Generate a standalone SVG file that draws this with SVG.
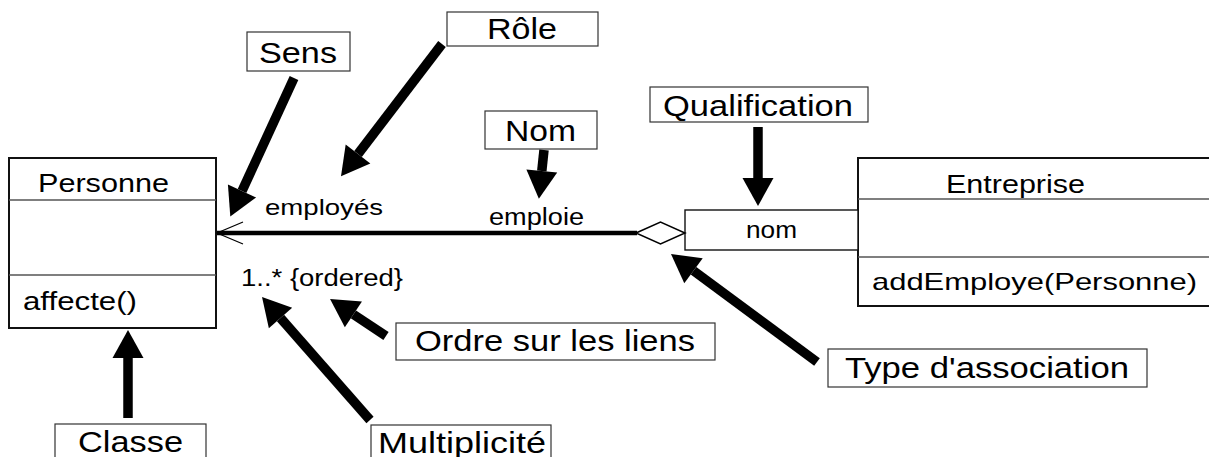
<svg xmlns="http://www.w3.org/2000/svg" width="1209" height="457" viewBox="0 0 1209 457">
<style>
text{font-family:"Liberation Sans",Arial,sans-serif;fill:#000}
.cls{fill:#fff;stroke:#111;stroke-width:2}
.div{stroke:#555;stroke-width:1.4}
.lbl{fill:#fff;stroke:#333;stroke-width:1.2}
.shaft{stroke:#000;stroke-width:9.5;fill:none;marker-end:url(#head)}
</style>
<defs>
<marker id="head" markerUnits="userSpaceOnUse" viewBox="0 -16 29 32" refX="0" refY="0" markerWidth="29" markerHeight="32" orient="auto" overflow="visible">
<path d="M0,-15.5 L28,0 L0,15.5 Z" fill="#000"/>
</marker>
</defs>

<g id="personne">
<rect class="cls" x="9" y="158" width="207" height="170"/>
<line class="div" x1="9" y1="200" x2="216" y2="200"/>
<line class="div" x1="9" y1="275" x2="216" y2="275"/>
<text x="38" y="192" font-size="26" textLength="131" lengthAdjust="spacingAndGlyphs">Personne</text>
<text x="23" y="310" font-size="25" textLength="114" lengthAdjust="spacingAndGlyphs">affecte()</text>
</g>

<g id="entreprise">
<rect class="cls" x="858" y="158" width="360" height="148"/>
<line class="div" x1="858" y1="199" x2="1209" y2="199"/>
<line class="div" x1="858" y1="257" x2="1209" y2="257"/>
<text x="946" y="193" font-size="25" textLength="139" lengthAdjust="spacingAndGlyphs">Entreprise</text>
<text x="872" y="290" font-size="24" textLength="325" lengthAdjust="spacingAndGlyphs">addEmploye(Personne)</text>
</g>

<g id="qualifier">
<rect x="685" y="210" width="173" height="40" fill="#fff" stroke="#111" stroke-width="1.4"/>
<text x="746" y="238" font-size="23" textLength="51" lengthAdjust="spacingAndGlyphs">nom</text>
</g>

<g id="association">
<line x1="217" y1="233" x2="637" y2="233" stroke="#000" stroke-width="4.3"/>
<path d="M243,222 L217,233 L243,244" fill="none" stroke="#000" stroke-width="1.2"/>
<path d="M636,233 L660.5,222 L685,233 L660.5,244 Z" fill="#fff" stroke="#000" stroke-width="1.5"/>
<text x="265" y="215" font-size="22" textLength="118" lengthAdjust="spacingAndGlyphs">employés</text>
<text x="489" y="225" font-size="23" textLength="95" lengthAdjust="spacingAndGlyphs">emploie</text>
<text x="241" y="286" font-size="23" textLength="162" lengthAdjust="spacingAndGlyphs">1..* {ordered}</text>
</g>

<g id="label-sens">
<rect class="lbl" x="247" y="32" width="103" height="39"/>
<text x="259" y="63" font-size="29" textLength="78" lengthAdjust="spacingAndGlyphs">Sens</text>
</g>
<g id="label-role">
<rect class="lbl" x="447" y="12" width="151" height="34"/>
<text x="487" y="39" font-size="29" textLength="70" lengthAdjust="spacingAndGlyphs">Rôle</text>
</g>
<g id="label-nom">
<rect class="lbl" x="485" y="111" width="112" height="38"/>
<text x="505" y="141" font-size="29" textLength="71" lengthAdjust="spacingAndGlyphs">Nom</text>
</g>
<g id="label-qualification">
<rect class="lbl" x="650" y="87" width="218" height="35"/>
<text x="663" y="116" font-size="29" textLength="190" lengthAdjust="spacingAndGlyphs">Qualification</text>
</g>
<g id="label-ordre">
<rect class="lbl" x="396" y="323" width="319" height="37"/>
<text x="415" y="351" font-size="29" textLength="280" lengthAdjust="spacingAndGlyphs">Ordre sur les liens</text>
</g>
<g id="label-type">
<rect class="lbl" x="828" y="349" width="319" height="38"/>
<text x="845" y="378" font-size="29" textLength="284" lengthAdjust="spacingAndGlyphs">Type d'association</text>
</g>
<g id="label-classe">
<rect class="lbl" x="55" y="424" width="151" height="40"/>
<text x="78" y="452" font-size="29" textLength="105" lengthAdjust="spacingAndGlyphs">Classe</text>
</g>
<g id="label-multiplicite">
<rect class="lbl" x="371" y="425" width="180" height="40"/>
<text x="378" y="453" font-size="29" textLength="168" lengthAdjust="spacingAndGlyphs">Multiplicité</text>
</g>

<g id="connectors">
<line class="shaft" x1="294" y1="78" x2="242" y2="191"/>
<line class="shaft" x1="442" y1="44" x2="358" y2="154"/>
<line class="shaft" x1="544" y1="150" x2="541.8" y2="171"/>
<line class="shaft" x1="758" y1="127" x2="758" y2="178"/>
<line class="shaft" x1="128" y1="418" x2="128" y2="358"/>
<line class="shaft" x1="370" y1="420" x2="280.5" y2="318"/>
<line class="shaft" x1="386" y1="336" x2="353.4" y2="314.4"/>
<line class="shaft" x1="817" y1="362" x2="693.5" y2="270.7"/>
</g>
</svg>
